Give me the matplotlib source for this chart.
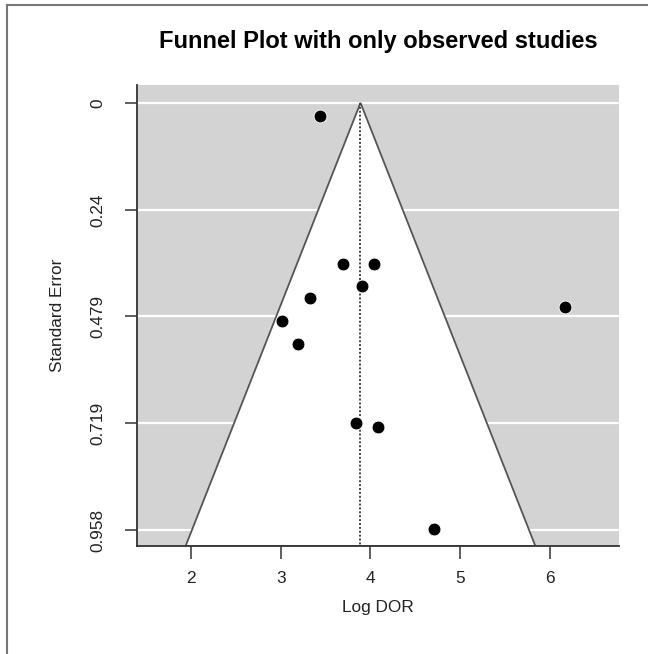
import numpy as np
import matplotlib
matplotlib.use("Agg")
import matplotlib.pyplot as plt
from matplotlib.lines import Line2D

plt.rcParams['font.family'] = ['Liberation Sans', 'DejaVu Sans']

# Observed studies: log diagnostic odds ratio and its standard error
log_dor = [3.44, 3.69, 4.04, 3.91, 3.33, 3.02, 3.19, 6.17, 3.84, 4.09, 4.71]
std_err = [0.029, 0.361, 0.361, 0.410, 0.438, 0.489, 0.541, 0.458, 0.717, 0.728, 0.956]

# Pooled estimate (vertical reference line / funnel centre)
pooled = 3.89
se_ticks = [0, 0.24, 0.479, 0.719, 0.958]
se_tick_labels = ["0", "0.24", "0.479", "0.719", "0.958"]
x_ticks = [2, 3, 4, 5, 6]

W, H = 655, 654
fig = plt.figure(figsize=(W / 100, H / 100), dpi=100)
ax = fig.add_axes([137 / W, 1 - 546 / H, (619 - 137) / W, (546 - 85) / H])

xlim = (1.40, 6.77)
ylim = (0.994, -0.04)
ax.set_xlim(*xlim)
ax.set_ylim(*ylim)

# grey background with white horizontal lines
ax.set_facecolor("#d3d3d3")
for t in se_ticks:
    ax.axhline(t, color="white", lw=1.6, zorder=1)

# pseudo-confidence region (95%)
ymax = ylim[0]
funnel_x = [pooled - 1.96 * ymax, pooled, pooled + 1.96 * ymax]
funnel_y = [ymax, 0, ymax]
ax.fill(funnel_x, funnel_y, facecolor="white", edgecolor="#555555", lw=1.3, zorder=2)
ax.plot([pooled, pooled], [0, ymax], color="#444444", lw=1.4, ls=(0, (1.0, 1.0)), zorder=3)

ax.scatter(log_dor, std_err, s=85, color="black", edgecolors="white", linewidths=0.6, zorder=4)

ax.set_xticks(x_ticks)
ax.set_xticklabels([str(v) for v in x_ticks])
ax.set_yticks(se_ticks)
ax.set_yticklabels(se_tick_labels, rotation=90, va="center")
ax.tick_params(axis="both", direction="out", length=9, width=1.1, color="#333333",
               labelsize=12.4, labelcolor="#222222")
ax.tick_params(axis="x", pad=9)
ax.tick_params(axis="y", pad=14)

for side in ("top", "right"):
    ax.spines[side].set_visible(False)
for side in ("left", "bottom"):
    ax.spines[side].set_color("#333333")
    ax.spines[side].set_linewidth(1.3)

ax.set_xlabel("Log DOR", fontsize=12.4, color="#222222", labelpad=10)
ax.set_ylabel("Standard Error", fontsize=12.4, color="#222222", labelpad=18)
ax.set_title("Funnel Plot with only observed studies", fontsize=17, fontweight="bold",
             pad=26.5)

# outer frame (top and left edges)
fig.add_artist(Line2D([7 / W, 647 / W], [1 - 5 / H, 1 - 5 / H], color="#777777", lw=1.5))
fig.add_artist(Line2D([7 / W, 7 / W], [0, 1 - 5 / H], color="#777777", lw=1.5))

fig.savefig("out.png", dpi=100, facecolor="white")
